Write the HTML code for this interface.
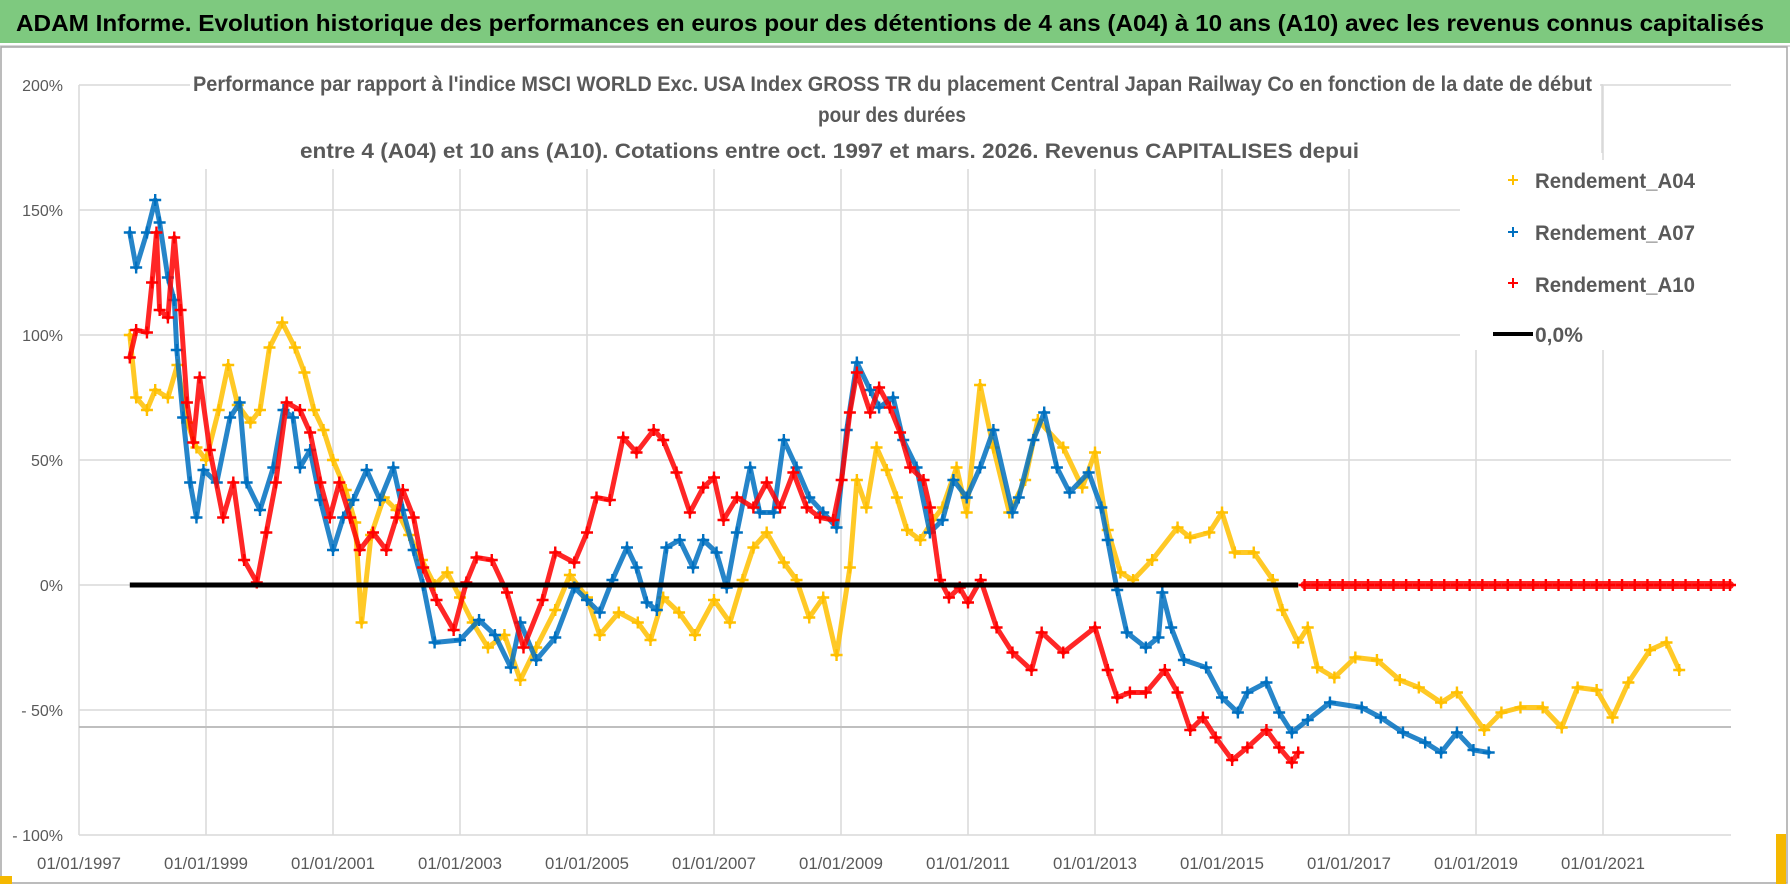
<!DOCTYPE html>
<html><head><meta charset="utf-8"><style>
html,body{margin:0;padding:0;background:#fff;}
svg{display:block;font-family:"Liberation Sans Narrow","Liberation Sans",sans-serif;}
</style></head><body>
<svg id="chart" width="1790" height="886" viewBox="0 0 1790 886" xmlns="http://www.w3.org/2000/svg">
<rect x="0" y="0" width="1790" height="886" fill="#fff"/>
<rect x="0" y="0" width="1790" height="43" fill="#7ec97f"/>
<text x="16" y="31" font-size="23" font-weight="bold" fill="#000" textLength="1748" lengthAdjust="spacingAndGlyphs">ADAM Informe. Evolution historique des performances en euros pour des détentions de 4 ans (A04) à 10 ans (A10) avec les revenus connus capitalisés</text>
<line x1="0" y1="46" x2="1790" y2="46" stroke="#d9d9d9" stroke-width="2"/>
<rect x="1" y="47" width="1786" height="836" fill="none" stroke="#a6a6a6" stroke-width="1.5"/>
<rect x="0" y="876" width="12" height="8" fill="#f5b800"/>
<rect x="1776" y="834" width="10" height="50" fill="#f5b800"/>
<g id="grid"></g>
<line x1="79" y1="727" x2="1731" y2="727" stroke="#bfbfbf" stroke-width="2"/>
<rect x="190" y="66" width="1410" height="103" fill="#fff"/>
<line x1="1602" y1="84" x2="1602" y2="153" stroke="#d9d9d9" stroke-width="1.5"/>
<rect x="1460" y="160" width="275" height="190" fill="#fff"/>
<g font-size="21" font-weight="bold" fill="#595959">
<text x="193" y="91" textLength="1399" lengthAdjust="spacingAndGlyphs">Performance par rapport à l'indice MSCI WORLD Exc. USA Index GROSS TR  du placement Central Japan Railway Co en fonction de la date de début</text>
<text x="818" y="122" textLength="148" lengthAdjust="spacingAndGlyphs">pour des durées</text>
<text x="300" y="158" textLength="1059" lengthAdjust="spacingAndGlyphs">entre 4 (A04) et 10 ans (A10). Cotations entre oct. 1997 et mars. 2026. Revenus CAPITALISES depui</text>
</g>
<g id="yticks"></g>
<g id="xticks"></g>
<g id="series"></g>
<g>
<g><path d="M1508 180h10M1513 175v10" stroke="#ffc000" stroke-width="2"/><text x="1535" y="188" font-size="21" font-weight="bold" fill="#595959" textLength="160" lengthAdjust="spacingAndGlyphs">Rendement_A04</text></g>
<g><path d="M1508 232h10M1513 227v10" stroke="#0070c0" stroke-width="2"/><text x="1535" y="240" font-size="21" font-weight="bold" fill="#595959" textLength="160" lengthAdjust="spacingAndGlyphs">Rendement_A07</text></g>
<g><path d="M1508 283h10M1513 278v10" stroke="#ff0000" stroke-width="2"/><text x="1535" y="292" font-size="21" font-weight="bold" fill="#595959" textLength="160" lengthAdjust="spacingAndGlyphs">Rendement_A10</text></g>
<g><line x1="1493" y1="334" x2="1533" y2="334" stroke="#000" stroke-width="4"/><text x="1535" y="342" font-size="21" font-weight="bold" fill="#595959">0,0%</text></g>
</g>
</svg>
<script>
const yTicks = [200, 150, 100, 50, 0, -50, -100];
const yTickLabels = ["200%", "150%", "100%", "50%", "0%", "- 50%", "- 100%"];
const xTicks = [1997, 1999, 2001, 2003, 2005, 2007, 2009, 2011, 2013, 2015, 2017, 2019, 2021];
const xTickLabels = ["01/01/1997","01/01/1999","01/01/2001","01/01/2003","01/01/2005","01/01/2007","01/01/2009","01/01/2011","01/01/2013","01/01/2015","01/01/2017","01/01/2019","01/01/2021"];
const a04Years = [1997.8,1997.9,1998.07,1998.2,1998.4,1998.55,1998.7,1998.85,1999.0,1999.2,1999.35,1999.5,1999.7,1999.85,2000.0,2000.2,2000.4,2000.55,2000.7,2000.85,2001.0,2001.2,2001.35,2001.45,2001.6,2001.8,2002.0,2002.2,2002.4,2002.6,2002.8,2003.0,2003.2,2003.44,2003.7,2003.95,2004.2,2004.5,2004.73,2005.0,2005.2,2005.5,2005.8,2006.0,2006.2,2006.45,2006.7,2007.0,2007.25,2007.45,2007.62,2007.83,2008.1,2008.3,2008.5,2008.72,2008.93,2009.14,2009.25,2009.4,2009.56,2009.72,2009.88,2010.04,2010.25,2010.45,2010.6,2010.82,2010.98,2011.19,2011.4,2011.65,2011.9,2012.1,2012.5,2012.8,2013.0,2013.2,2013.4,2013.6,2013.9,2014.3,2014.5,2014.8,2015.0,2015.2,2015.5,2015.8,2015.95,2016.2,2016.35,2016.5,2016.77,2017.1,2017.44,2017.8,2018.1,2018.45,2018.7,2019.13,2019.4,2019.7,2020.05,2020.35,2020.6,2020.9,2021.15,2021.4,2021.74,2022.0,2022.2];
const a04Values = [100,75,70,78,75,88,65,55,50,70,88,72,65,70,95,105,95,85,70,62,50,38,25,-15,20,35,30,20,10,0,5,-5,-15,-25,-20,-38,-25,-10,4,-5,-20,-11,-15,-22,-5,-11,-20,-6,-15,2,15,21,9,2,-13,-5,-28,7,42,31,55,46,35,22,18,26,31,47,29,80,55,29,42,66,55,39,53,22,5,2,10,23,19,21,29,13,13,2,-10,-23,-17,-33,-37,-29,-30,-38,-41,-47,-43,-58,-51,-49,-49,-57,-41,-42,-53,-39,-26,-23,-34];
const a07Years = [1997.8,1997.9,1998.07,1998.2,1998.27,1998.4,1998.5,1998.54,1998.64,1998.75,1998.85,1998.96,1999.17,1999.38,1999.53,1999.64,1999.85,2000.06,2000.22,2000.37,2000.48,2000.64,2000.8,2001.0,2001.16,2001.32,2001.53,2001.74,2001.95,2002.1,2002.27,2002.42,2002.6,2003.0,2003.3,2003.55,2003.8,2003.95,2004.2,2004.5,2004.8,2005.0,2005.2,2005.4,2005.63,2005.78,2005.94,2006.1,2006.25,2006.46,2006.67,2006.83,2007.04,2007.2,2007.36,2007.57,2007.72,2007.94,2008.1,2008.3,2008.5,2008.72,2008.93,2009.09,2009.25,2009.46,2009.6,2009.82,2009.98,2010.19,2010.4,2010.6,2010.77,2010.98,2011.19,2011.4,2011.7,2011.8,2012.03,2012.2,2012.4,2012.6,2012.9,2013.1,2013.2,2013.35,2013.5,2013.8,2014.0,2014.06,2014.2,2014.4,2014.75,2015.0,2015.25,2015.4,2015.7,2015.9,2016.1,2016.35,2016.7,2017.2,2017.5,2017.85,2018.2,2018.45,2018.7,2018.96,2019.2];
const a07Values = [141,127,141,154,145,123,114,94,67,41,27,46,41,67,73,41,30,47,70,67,47,54,34,14,27,34,46,34,47,30,14,0,-23,-22,-14,-20,-33,-15,-30,-21,-1,-6,-11,2,15,7,-7,-10,15,18,7,18,13,-1,21,47,29,29,58,47,35,29,23,62,89,78,71,75,58,47,21,26,42,35,47,62,29,35,58,69,47,37,45,31,18,-2,-19,-25,-21,-3,-17,-30,-33,-45,-51,-43,-39,-51,-59,-54,-47,-49,-53,-59,-63,-67,-59,-66,-67];
const a10Years = [1997.8,1997.9,1998.07,1998.15,1998.22,1998.27,1998.4,1998.5,1998.6,1998.7,1998.8,1998.9,1999.06,1999.27,1999.43,1999.6,1999.8,1999.95,2000.1,2000.27,2000.48,2000.64,2000.8,2000.95,2001.1,2001.27,2001.42,2001.63,2001.84,2002.0,2002.1,2002.27,2002.42,2002.63,2002.9,2003.1,2003.26,2003.5,2003.74,2004.0,2004.3,2004.5,2004.8,2005.0,2005.15,2005.36,2005.57,2005.78,2006.05,2006.2,2006.41,2006.62,2006.83,2007.0,2007.15,2007.36,2007.62,2007.83,2008.04,2008.25,2008.46,2008.67,2008.88,2009.01,2009.14,2009.25,2009.46,2009.6,2009.77,2009.93,2010.09,2010.3,2010.4,2010.56,2010.7,2010.87,2011.0,2011.2,2011.45,2011.7,2012.0,2012.16,2012.5,2013.0,2013.2,2013.35,2013.55,2013.8,2014.1,2014.3,2014.5,2014.7,2014.9,2015.16,2015.4,2015.7,2015.9,2016.1,2016.2];
const a10Values = [91,102,101,121,141,110,107,139,110,73,57,83,54,27,41,10,1,21,41,73,70,61,41,27,41,27,14,21,14,27,38,27,7,-6,-18,1,11,10,-3,-25,-6,13,9,21,35,34,59,53,62,58,45,29,39,43,26,35,31,41,31,45,31,27,26,42,69,85,69,79,71,61,47,42,31,2,-5,-1,-7,2,-17,-27,-34,-19,-27,-17,-34,-45,-43,-43,-34,-43,-58,-53,-61,-70,-65,-58,-65,-71,-67];
const a10ZeroYears = [2016.3,2016.5,2016.7,2016.9,2017.1,2017.3,2017.5,2017.7,2017.9,2018.1,2018.3,2018.5,2018.7,2018.9,2019.1,2019.3,2019.5,2019.7,2019.9,2020.1,2020.3,2020.5,2020.7,2020.9,2021.1,2021.3,2021.5,2021.7,2021.9,2022.1,2022.3,2022.5,2022.7,2022.9,2023.0];
const a10ZeroValues = [0,0,0,0,0,0,0,0,0,0,0,0,0,0,0,0,0,0,0,0,0,0,0,0,0,0,0,0,0,0,0,0,0,0,0];
const zeroLineYears = [1997.8, 2016.2];
const zeroLineValues = [0, 0];

const NS = "http://www.w3.org/2000/svg";
function xs(year){ return 79 + (year - 1997) * 63.5; }
function ys(v){ return 585 - v * 2.5; }
function mk(tag, attrs, parent){ const e = document.createElementNS(NS, tag); for (const k in attrs) e.setAttribute(k, attrs[k]); parent.appendChild(e); return e; }

const grid = document.getElementById('grid');
yTicks.forEach(function(v){
  const l = mk('line', {x1:79, x2:1731, y1:ys(v), y2:ys(v), stroke:'#d9d9d9', 'stroke-width':1.5}, grid);
  
  
});
xTicks.forEach(function(t){
  const l = mk('line', {x1:xs(t), x2:xs(t), y1:ys(200), y2:ys(-100), stroke:'#d9d9d9', 'stroke-width':1.5}, grid);
  
  
});
const yg = document.getElementById('yticks');
yTicks.forEach(function(v, i){
  const t = mk('text', {x:63, y:ys(v)+6, 'text-anchor':'end', 'font-size':16, fill:'#595959'}, yg);
  t.textContent = yTickLabels[i];
  
  
});
const xg = document.getElementById('xticks');
xTicks.forEach(function(tk, i){
  const t = mk('text', {x:xs(tk)-42, y:869, 'font-size':17, fill:'#595959', textLength:84, lengthAdjust:'spacingAndGlyphs'}, xg);
  t.textContent = xTickLabels[i];
  
  
});

const sg = document.getElementById('series');
function drawSeries(years, values, color, name, lw){
  const g = mk('g', {}, sg);
  
  
  const pts = years.map(function(y, i){ return xs(y).toFixed(1) + ',' + ys(values[i]).toFixed(1); }).join(' ');
  mk('polyline', {points:pts, fill:'none', stroke:color, 'stroke-width':lw, 'stroke-linejoin':'round', 'stroke-linecap':'round', opacity:0.85}, g);
  years.forEach(function(y, i){
    const cx = xs(y), cy = ys(values[i]);
    const p = mk('path', {d:'M'+(cx-6)+' '+cy+'h12M'+cx+' '+(cy-6)+'v12', stroke:color, 'stroke-width':2.4}, g);
    
    
  });
}
drawSeries(a04Years, a04Values, '#ffc000', 'series-a04', 5);
drawSeries(a07Years, a07Values, '#0070c0', 'series-a07', 5);
drawSeries(a10Years, a10Values, '#ff0000', 'series-a10', 5);
const zl = mk('line', {x1:xs(zeroLineYears[0]), x2:xs(zeroLineYears[1]), y1:ys(zeroLineValues[0]), y2:ys(zeroLineValues[1]), stroke:'#000', 'stroke-width':5}, sg);


drawSeries(a10ZeroYears, a10ZeroValues, '#ff0000', 'series-a10-zero', 8);
</script>
</body></html>
